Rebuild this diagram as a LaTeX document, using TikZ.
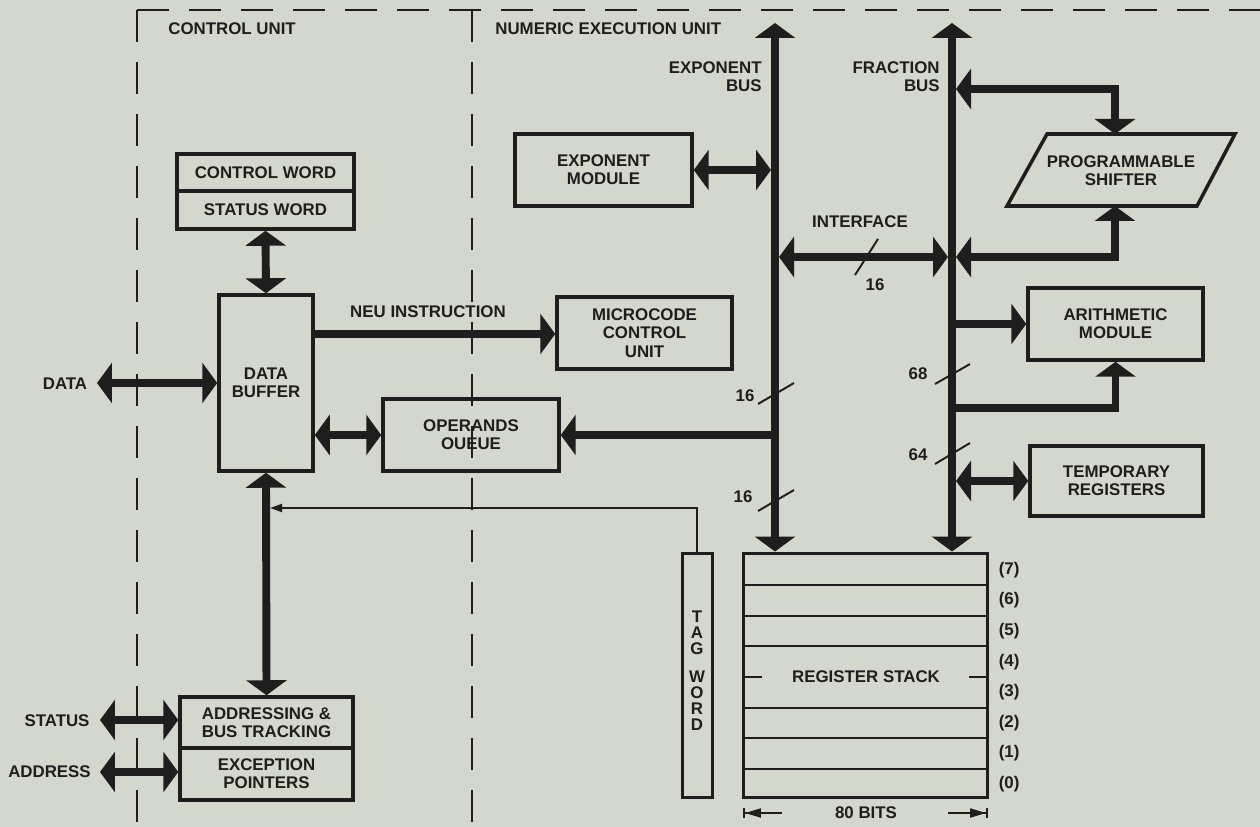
\documentclass[tikz,border=0pt]{standalone}
\usepackage{fontspec}
\setmainfont{Liberation Sans}
\usetikzlibrary{arrows.meta}

\definecolor{paper}{RGB}{212,215,206}
\definecolor{ink}{RGB}{30,30,30}

\tikzset{
  lbl/.style={font=\fontsize{9.6}{10.4}\selectfont\bfseries, text=ink, inner sep=0pt, align=center},
  blk/.style={lbl, draw=ink, line width=2pt},
  bus/.style={draw=ink, line width=4.5pt, >={Triangle[width=0.8cm,length=0.3cm]}},
  wire/.style={draw=ink, line width=1.1pt},
  border/.style={draw=ink, line width=1.1pt, dash pattern=on 0.64cm off 0.4cm},
}

\begin{document}
\begin{tikzpicture}[x=0.02cm,y=-0.02cm]

\fill[paper] (0,0) rectangle (1260,827);
\useasboundingbox (0,0) rectangle (1260,827);

%Unit borders
\draw[border] (137,10)--(137,827); \draw[border] (137,10)--(1260,10);
\draw[border] (472,10)--(472,827);
\node[lbl,anchor=west] (cul) at (168,29) {CONTROL UNIT};
\node[lbl,anchor=west] (neul) at (495,29) {NUMERIC EXECUTION UNIT};

%Control unit
\node[blk,minimum width=3.54cm,minimum height=0.74cm] (cw) at (265.5,172.5) {CONTROL WORD};
\node[blk,minimum width=3.54cm,minimum height=0.76cm] (sw) at (265.5,210) {STATUS WORD};
\node[blk,minimum width=1.88cm,minimum height=3.52cm] (buf) at (266,383) {DATA\\BUFFER};
\node[blk,minimum width=3.46cm,minimum height=1.02cm] (abt) at (266.5,722.5) {ADDRESSING \&\\BUS TRACKING};
\node[blk,minimum width=3.46cm,minimum height=1.04cm] (exc) at (266.5,774) {EXCEPTION\\POINTERS};

\node[lbl] (datal) at (65,384) {DATA};
\node[lbl] (stsl) at (57,721) {STATUS};
\node[lbl] (adrl) at (49.5,772) {ADDRESS};
\coordinate (dataend) at (97,383); \coordinate (stsend) at (100,720); \coordinate (adrend) at (100,772);

\draw[bus,<->] (sw.south)--(buf.north);
\draw[bus,<->] (buf.south)--(abt.north);
\draw[bus,<->] (dataend)--(dataend -| buf.west);
\draw[bus,<->] (stsend)--(stsend -| abt.west);
\draw[bus,<->] (adrend)--(adrend -| exc.west);

%Numeric execution unit
\node[blk,minimum width=3.5cm,minimum height=1.44cm] (micro) at (644.5,333) {MICROCODE\\CONTROL\\UNIT};
\node[blk,minimum width=3.52cm,minimum height=1.44cm] (opq) at (471,435) {OPERANDS\\OUEUE};
\node[blk,minimum width=3.54cm,minimum height=1.44cm] (emod) at (603.5,170) {EXPONENT\\MODULE};
\node[blk,minimum width=3.5cm,minimum height=1.44cm] (arith) at (1115.5,324) {ARITHMETIC\\MODULE};
\node[blk,minimum width=3.46cm,minimum height=1.4cm] (temp) at (1116.5,481) {TEMPORARY\\REGISTERS};

\draw[ink,line width=2pt] (1007,206)--(1047,134)--(1235,134)--(1197,206)--cycle;
\node[lbl] (shf) at (1121,171) {PROGRAMMABLE\\SHIFTER};
\coordinate (shin) at (1115,134); \coordinate (shout) at (1115,206);

\node[lbl] (neuins) at (428,312) {NEU INSTRUCTION};
\coordinate (neu) at (313,334);
\draw[bus,->] (neu)--(neu -| micro.west);
\draw[bus,<->] (opq.west -| buf.east)--(opq.west);

%Register stack and tag word
\node[draw=ink,line width=1.7pt,minimum width=4.9cm,minimum height=4.9cm,inner sep=0pt] (stack) at (865.5,675.5) {};
\foreach \k in {1,2,3,5,6,7}
  \draw[wire] ([yshift=\k*0.6125cm]stack.south west)--([yshift=\k*0.6125cm]stack.south east);
\draw[wire] ([yshift=4*0.6125cm]stack.south west)--++(20,0); \draw[wire] ([yshift=4*0.6125cm]stack.south east)--++(-20,0);
\foreach \k in {0,...,7}
  \node[lbl,anchor=west] (row\k) at ([xshift=0.18cm,yshift=\k*0.6125cm+0.306cm]stack.south east) {(\k)};
\node[lbl] (rsl) at (866,677) {REGISTER STACK};

\node[lbl] (bits) at (866,813) {80 BITS};
\coordinate (bitsl) at (743,813); \coordinate (bitsr) at (988,813);
\draw[wire,{Bar[width=0.2cm]Triangle[width=0.18cm,length=0.32cm]}-] (bitsl)--++(39,0);
\draw[wire,-{Triangle[width=0.18cm,length=0.32cm]Bar[width=0.2cm]}] (bitsr)++(-40,0)--(bitsr);

\node[draw=ink,line width=1.7pt,minimum width=0.6cm,minimum height=4.9cm,inner sep=0pt] (tag) at (697,675.5) {};
\node[lbl,font=\fontsize{9.6}{9.1}\selectfont\bfseries] (tagl) at (697,671) {T\\A\\G\\[7pt]W\\O\\R\\D};
\coordinate (tagin) at (270,508);
\draw[wire,-{Triangle[width=0.16cm,length=0.24cm]}] (tag.north) |- (tagin);

%Buses
\coordinate (ebtop) at (775,23); \coordinate (fbtop) at (952,23);
\draw[bus,<->] (ebtop)--(ebtop |- stack.north);
\draw[bus,<->] (fbtop)--(fbtop |- stack.north);
\node[lbl,anchor=east,align=right] (ebl) at (762,77) {EXPONENT\\BUS};
\node[lbl,anchor=east,align=right] (fbl) at (940,77) {FRACTION\\BUS};

\draw[bus,->] (ebtop |- opq.east)--(opq.east);
\draw[bus,<->,shorten >=0.08cm] (emod.east)--(emod.east -| ebtop);

\coordinate (ifc) at (775,257); \coordinate (fbhi) at (952,89); \coordinate (fblo) at (952,408);
\draw[bus,<->,shorten <=0.08cm,shorten >=0.08cm] (ifc)--(ifc -| fbtop);
\node[lbl] (ifl) at (860,222) {INTERFACE};

\draw[bus,<->,shorten <=0.08cm] (fbhi) -| (shin);
\draw[bus,<->,shorten >=0.08cm] (shout) |- (ifc -| fbtop);
\draw[bus,->] (arith.west -| fbtop)--(arith.west);
\draw[bus,->] (fblo) -| (arith.south);
\draw[bus,<->,shorten <=0.08cm] (temp.west -| fbtop)--(temp.west);

%Bus widths
\draw[wire] (855,275)--(878,239); \node[lbl] (w16i) at (875,285) {16};
\draw[wire] (758,404)--(794,383); \node[lbl] (w16a) at (745,396) {16};
\draw[wire] (758,511)--(794,490); \node[lbl] (w16b) at (743,497) {16};
\draw[wire] (935,384)--(970,364); \node[lbl] (w68) at (918,374) {68};
\draw[wire] (935,464)--(970,443); \node[lbl] (w64) at (918,455) {64};

\end{tikzpicture}
\end{document}
